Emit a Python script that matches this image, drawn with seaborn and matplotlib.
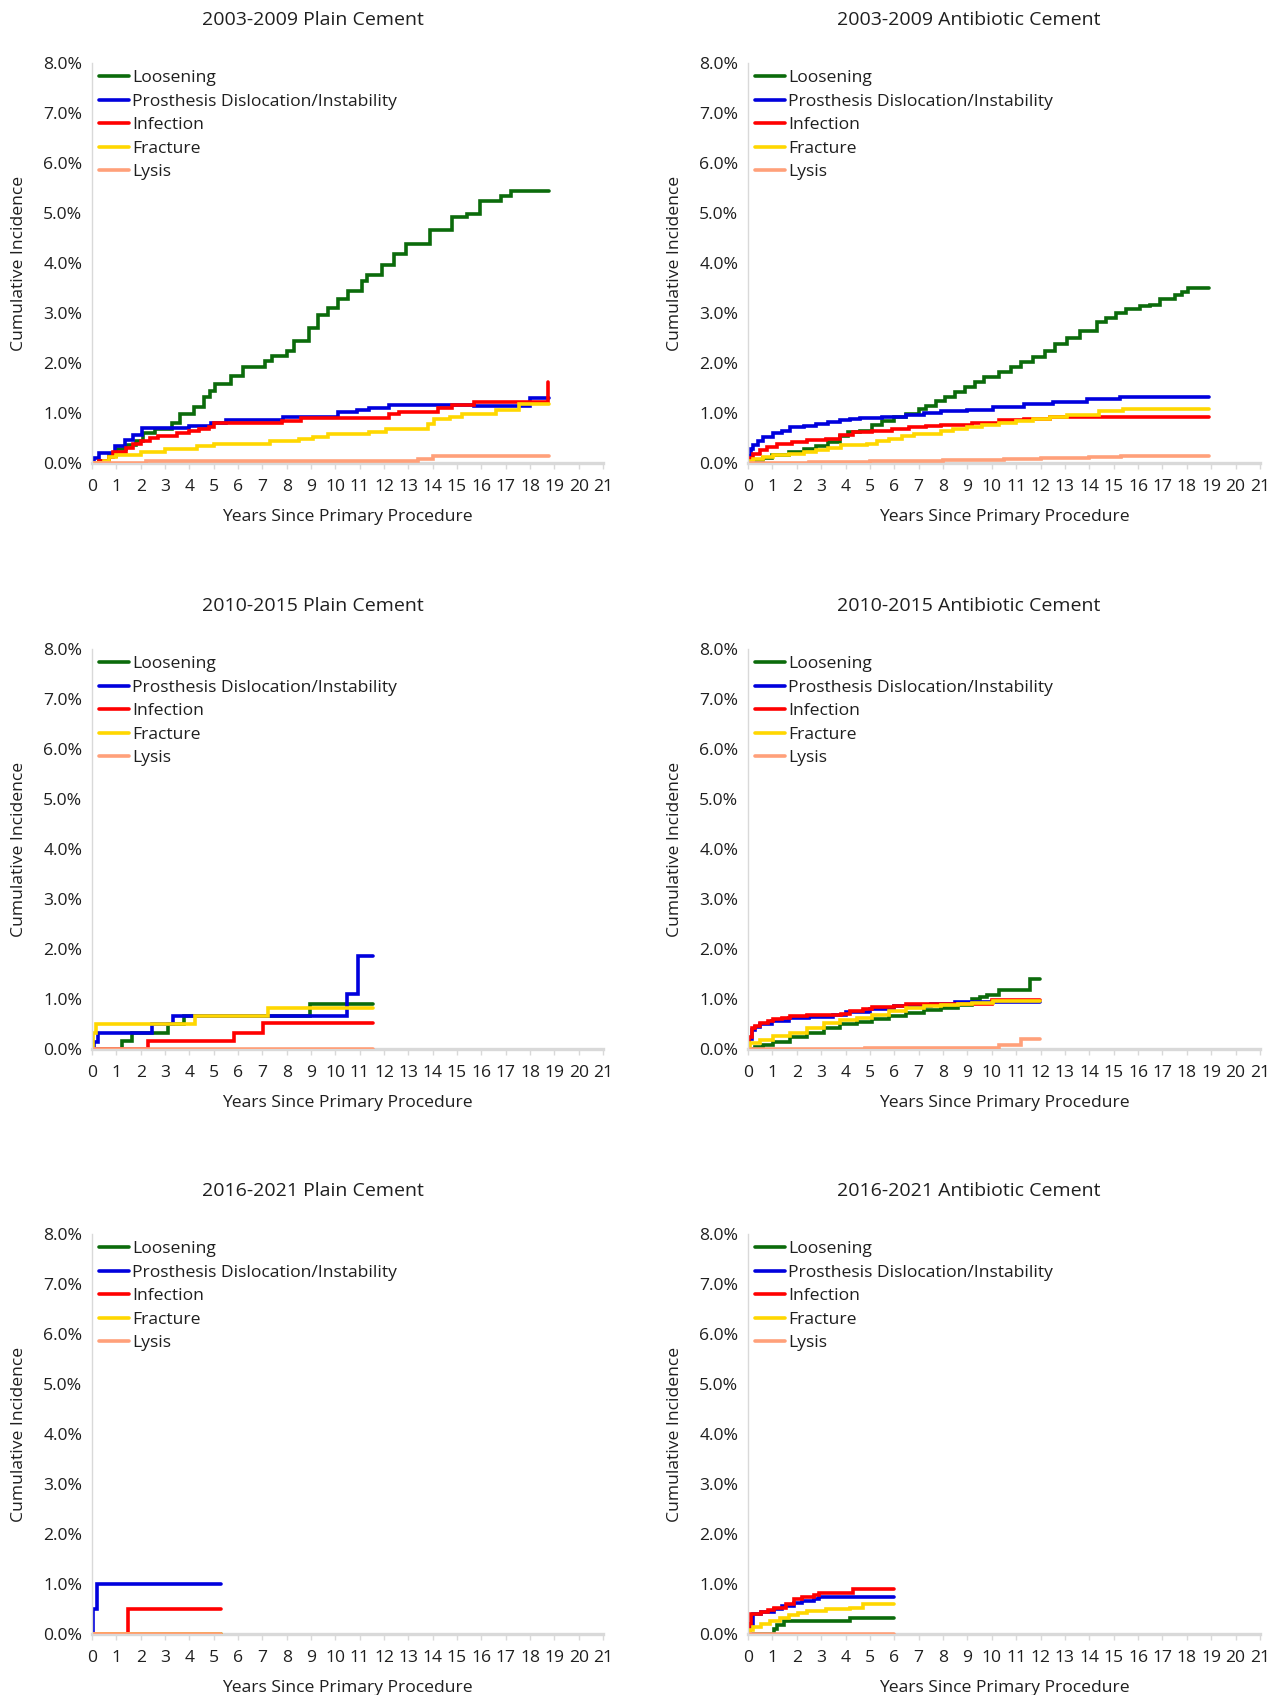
import matplotlib
matplotlib.use("Agg")
import matplotlib.pyplot as plt
import seaborn as sns
import pandas as pd
from matplotlib.lines import Line2D
from matplotlib.ticker import FuncFormatter

# ---------------- data (years, cumulative incidence %) ----------------
CAUSES = ["Loosening", "Prosthesis Dislocation/Instability", "Infection", "Fracture", "Lysis"]
COLORS = ["#0b6b0b", "#0000dd", "#ff0000", "#ffd700", "#ffa07a"]
TITLES = ["2003-2009 Plain Cement", "2003-2009 Antibiotic Cement",
          "2010-2015 Plain Cement", "2010-2015 Antibiotic Cement",
          "2016-2021 Plain Cement", "2016-2021 Antibiotic Cement"]
X_TICKS = list(range(0, 22))
Y_TICKS = [0, 1, 2, 3, 4, 5, 6, 7, 8]

# Panel 1: 2003-2009 Plain
p1_loos_x = [0, 0.3, 0.7, 1.0, 1.4, 1.8, 2.1, 2.6, 3.3, 3.6, 4.2, 4.6, 4.85, 5.05, 5.7, 6.2, 7.1, 7.4, 8.0, 8.3, 8.9, 9.3, 9.7, 10.1, 10.5, 11.1, 11.3, 11.9, 12.4, 12.9, 13.9, 14.8, 15.4, 15.95, 16.8, 17.2, 18.8]
p1_loos_y = [0, 0.05, 0.15, 0.28, 0.36, 0.44, 0.6, 0.69, 0.8, 0.98, 1.12, 1.32, 1.45, 1.58, 1.75, 1.92, 2.05, 2.15, 2.25, 2.44, 2.7, 2.96, 3.1, 3.28, 3.44, 3.64, 3.76, 3.96, 4.18, 4.38, 4.67, 4.92, 4.98, 5.25, 5.35, 5.45, 5.45]
p1_disl_x = [0, 0.1, 0.3, 0.95, 1.35, 1.7, 2.04, 4.0, 4.9, 5.5, 7.85, 10.1, 10.9, 11.4, 12.2, 15.7, 18.0, 18.8]
p1_disl_y = [0, 0.1, 0.2, 0.35, 0.46, 0.56, 0.71, 0.75, 0.81, 0.87, 0.92, 1.02, 1.07, 1.11, 1.17, 1.15, 1.3, 1.3]
p1_inf_x = [0, 0.3, 0.7, 0.85, 1.4, 1.7, 2.0, 2.4, 2.7, 3.5, 4.0, 4.4, 4.8, 5.0, 7.8, 8.6, 12.2, 12.6, 14.2, 14.8, 15.7, 18.75, 18.75]
p1_inf_y = [0, 0.05, 0.13, 0.23, 0.31, 0.38, 0.45, 0.5, 0.55, 0.6, 0.64, 0.68, 0.73, 0.8, 0.84, 0.9, 0.98, 1.02, 1.1, 1.16, 1.22, 1.22, 1.63]
p1_frac_x = [0, 0.5, 0.7, 1.0, 2.0, 3.0, 4.3, 5.0, 7.3, 8.5, 9.1, 9.7, 11.4, 12.1, 13.8, 14.05, 14.7, 15.2, 16.6, 17.55, 18.8]
p1_frac_y = [0, 0.05, 0.12, 0.17, 0.23, 0.28, 0.35, 0.39, 0.44, 0.48, 0.53, 0.58, 0.63, 0.69, 0.78, 0.88, 0.93, 0.98, 1.06, 1.19, 1.19]
p1_lys_x = [0, 2.2, 13.4, 14.0, 18.8]
p1_lys_y = [0, 0.04, 0.09, 0.15, 0.15]

# Panel 2: 2003-2009 Antibiotic
p2_loos_x = [0, 0.2, 0.6, 1.0, 1.7, 2.3, 2.8, 3.3, 3.77, 4.1, 4.6, 5.1, 5.5, 6.0, 6.5, 7.0, 7.3, 7.7, 8.1, 8.5, 8.9, 9.3, 9.7, 10.3, 10.8, 11.2, 11.7, 12.2, 12.6, 13.07, 13.6, 14.3, 14.7, 15.1, 15.5, 16.08, 16.5, 16.9, 17.5, 17.8, 18.05, 18.9]
p2_loos_y = [0, 0.06, 0.11, 0.16, 0.23, 0.28, 0.35, 0.42, 0.55, 0.62, 0.65, 0.76, 0.85, 0.92, 0.99, 1.08, 1.15, 1.24, 1.32, 1.42, 1.52, 1.62, 1.72, 1.82, 1.93, 2.03, 2.12, 2.25, 2.38, 2.5, 2.65, 2.83, 2.9, 3.0, 3.08, 3.15, 3.17, 3.28, 3.36, 3.43, 3.5, 3.5]
p2_disl_x = [0, 0.05, 0.12, 0.22, 0.4, 0.63, 1.04, 1.4, 1.72, 2.3, 2.8, 3.3, 3.77, 4.2, 4.6, 5.5, 6.5, 7.2, 7.9, 9.0, 10.06, 11.3, 12.5, 13.9, 15.26, 18.9]
p2_disl_y = [0, 0.15, 0.28, 0.36, 0.45, 0.52, 0.6, 0.64, 0.72, 0.75, 0.79, 0.82, 0.86, 0.88, 0.91, 0.93, 0.97, 1.0, 1.04, 1.07, 1.12, 1.19, 1.22, 1.28, 1.33, 1.33]
p2_inf_x = [0, 0.1, 0.22, 0.5, 0.77, 1.2, 1.8, 2.4, 3.2, 3.77, 4.3, 5.1, 5.9, 6.6, 7.3, 7.9, 9.2, 10.3, 11.3, 12.4, 14.4, 18.9]
p2_inf_y = [0, 0.1, 0.19, 0.26, 0.32, 0.39, 0.42, 0.46, 0.48, 0.56, 0.62, 0.64, 0.69, 0.72, 0.74, 0.76, 0.8, 0.86, 0.88, 0.92, 0.93, 0.93]
p2_frac_x = [0, 0.1, 0.22, 0.6, 1.04, 1.7, 2.3, 2.8, 3.3, 3.8, 4.9, 5.3, 5.8, 6.3, 6.8, 7.9, 8.4, 9.0, 9.6, 10.3, 11.0, 11.7, 12.4, 13.1, 14.4, 15.4, 18.9]
p2_frac_y = [0, 0.05, 0.09, 0.12, 0.16, 0.19, 0.22, 0.26, 0.3, 0.36, 0.39, 0.44, 0.49, 0.54, 0.59, 0.64, 0.68, 0.72, 0.76, 0.8, 0.84, 0.88, 0.93, 0.97, 1.04, 1.08, 1.08]
p2_lys_x = [0, 2.5, 5.0, 8.0, 10.5, 12.0, 14.0, 15.3, 18.9]
p2_lys_y = [0, 0.02, 0.04, 0.06, 0.08, 0.1, 0.12, 0.14, 0.14]

# Panel 3: 2010-2015 Plain
p3_loos_x = [0, 1.22, 1.63, 3.14, 3.8, 8.96, 11.56]
p3_loos_y = [0, 0.17, 0.33, 0.5, 0.66, 0.9, 0.9]
p3_disl_x = [0, 0.1, 0.26, 2.45, 3.34, 10.47, 10.95, 11.56]
p3_disl_y = [0, 0.15, 0.33, 0.5, 0.66, 1.1, 1.87, 1.87]
p3_inf_x = [0, 2.31, 5.84, 7.04, 11.56]
p3_inf_y = [0, 0.17, 0.33, 0.52, 0.52]
p3_frac_x = [0, 0.05, 0.15, 4.23, 7.25, 11.56]
p3_frac_y = [0, 0.33, 0.5, 0.66, 0.83, 0.83]
p3_lys_x = [0, 11.56]
p3_lys_y = [0, 0]

# Panel 4: 2010-2015 Antibiotic
p4_loos_x = [0, 0.3, 0.6, 1.04, 1.72, 2.4, 3.1, 3.77, 4.46, 5.1, 5.8, 6.5, 7.2, 7.9, 8.6, 9.2, 9.5, 9.79, 10.3, 11.56, 11.97]
p4_loos_y = [0, 0.04, 0.08, 0.15, 0.25, 0.33, 0.42, 0.5, 0.55, 0.6, 0.66, 0.72, 0.78, 0.83, 0.88, 1.0, 1.05, 1.08, 1.18, 1.4, 1.4]
p4_disl_x = [0, 0.05, 0.15, 0.3, 0.5, 1.0, 1.7, 2.5, 3.5, 4.0, 5.0, 6.0, 7.5, 8.5, 11.97]
p4_disl_y = [0, 0.2, 0.38, 0.44, 0.5, 0.56, 0.62, 0.65, 0.68, 0.74, 0.8, 0.86, 0.9, 0.94, 0.94]
p4_inf_x = [0, 0.05, 0.15, 0.3, 0.49, 0.8, 1.04, 1.4, 1.72, 2.4, 3.8, 4.2, 4.7, 5.1, 6.0, 6.5, 10.0, 11.97]
p4_inf_y = [0, 0.25, 0.42, 0.47, 0.52, 0.57, 0.6, 0.63, 0.66, 0.68, 0.7, 0.76, 0.8, 0.84, 0.87, 0.91, 0.98, 0.98]
p4_frac_x = [0, 0.08, 0.5, 1.04, 1.72, 2.4, 3.1, 3.77, 4.46, 5.1, 5.8, 6.5, 7.2, 7.9, 8.6, 9.2, 10.06, 11.97]
p4_frac_y = [0, 0.13, 0.18, 0.26, 0.32, 0.42, 0.52, 0.58, 0.63, 0.68, 0.76, 0.82, 0.86, 0.88, 0.9, 0.93, 0.96, 0.96]
p4_lys_x = [0, 4.8, 10.3, 11.2, 11.97]
p4_lys_y = [0, 0.03, 0.08, 0.2, 0.2]

# Panel 5: 2016-2021 Plain
p5_loos_x = [0, 5.29]
p5_loos_y = [0, 0]
p5_disl_x = [0, 0.05, 0.2, 5.29]
p5_disl_y = [0, 0.5, 1.0, 1.0]
p5_inf_x = [0, 1.46, 5.29]
p5_inf_y = [0, 0.5, 0.5]
p5_frac_x = [0, 5.29]
p5_frac_y = [0, 0]
p5_lys_x = [0, 5.29]
p5_lys_y = [0, 0]

# Panel 6: 2016-2021 Antibiotic
p6_loos_x = [0, 1.05, 1.2, 1.47, 4.2, 6.0]
p6_loos_y = [0, 0.1, 0.18, 0.26, 0.33, 0.33]
p6_disl_x = [0, 0.1, 0.22, 0.55, 1.05, 1.4, 1.9, 2.2, 2.7, 2.9, 6.0]
p6_disl_y = [0, 0.2, 0.4, 0.45, 0.5, 0.57, 0.63, 0.67, 0.7, 0.75, 0.75]
p6_inf_x = [0, 0.05, 0.13, 0.55, 0.8, 1.05, 1.56, 1.9, 2.2, 2.7, 2.9, 4.3, 6.0]
p6_inf_y = [0, 0.2, 0.4, 0.45, 0.48, 0.53, 0.6, 0.7, 0.75, 0.78, 0.82, 0.9, 0.9]
p6_frac_x = [0, 0.1, 0.2, 0.55, 0.9, 1.3, 1.7, 2.05, 2.4, 3.2, 4.2, 4.7, 6.0]
p6_frac_y = [0, 0.08, 0.15, 0.2, 0.26, 0.33, 0.38, 0.43, 0.47, 0.5, 0.53, 0.61, 0.61]
p6_lys_x = [0, 6.0]
p6_lys_y = [0, 0]

PANELS = [
    [(p1_loos_x, p1_loos_y), (p1_disl_x, p1_disl_y), (p1_inf_x, p1_inf_y), (p1_frac_x, p1_frac_y), (p1_lys_x, p1_lys_y)],
    [(p2_loos_x, p2_loos_y), (p2_disl_x, p2_disl_y), (p2_inf_x, p2_inf_y), (p2_frac_x, p2_frac_y), (p2_lys_x, p2_lys_y)],
    [(p3_loos_x, p3_loos_y), (p3_disl_x, p3_disl_y), (p3_inf_x, p3_inf_y), (p3_frac_x, p3_frac_y), (p3_lys_x, p3_lys_y)],
    [(p4_loos_x, p4_loos_y), (p4_disl_x, p4_disl_y), (p4_inf_x, p4_inf_y), (p4_frac_x, p4_frac_y), (p4_lys_x, p4_lys_y)],
    [(p5_loos_x, p5_loos_y), (p5_disl_x, p5_disl_y), (p5_inf_x, p5_inf_y), (p5_frac_x, p5_frac_y), (p5_lys_x, p5_lys_y)],
    [(p6_loos_x, p6_loos_y), (p6_disl_x, p6_disl_y), (p6_inf_x, p6_inf_y), (p6_frac_x, p6_frac_y), (p6_lys_x, p6_lys_y)],
]

# ---------------- style ----------------
sns.set_theme(style="white")
plt.rcParams["font.family"] = ["Open Sans", "DejaVu Sans"]
FS = 12.6
FS_TITLE = 14
TXT = "#1f1f1f"
AXC = "#d9d9d9"
LW = 2.6

W, H = 1278, 1695
fig = plt.figure(figsize=(W / 100, H / 100), dpi=100)

col_left = [92, 748]
col_w = [511, 512]
row_top = [63, 649, 1234]
row_h = 400

for i, series in enumerate(PANELS):
    r, c = divmod(i, 2)
    left = col_left[c] / W
    bottom = 1 - (row_top[r] + row_h) / H
    ax = fig.add_axes([left, bottom, col_w[c] / W, row_h / H])

    for (xs, ys), name, col in zip(series, CAUSES, COLORS):
        df = pd.DataFrame({"Years": xs, "Incidence": ys})
        sns.lineplot(data=df, x="Years", y="Incidence", ax=ax, color=col,
                     drawstyle="steps-post", estimator=None, sort=False,
                     lw=LW, legend=False, solid_joinstyle="miter")

    ax.set_xlim(0, 21)
    ax.set_ylim(0, 8)
    ax.set_xticks(X_TICKS)
    ax.set_yticks(Y_TICKS)
    ax.yaxis.set_major_formatter(FuncFormatter(lambda v, p: f"{v:.1f}%"))
    for s in ["top", "right"]:
        ax.spines[s].set_visible(False)
    ax.spines["left"].set_color(AXC)
    ax.spines["left"].set_linewidth(1.0)
    ax.spines["bottom"].set_color(AXC)
    ax.spines["bottom"].set_linewidth(2.4)
    ax.spines["bottom"].set_zorder(0.5)
    ax.tick_params(axis="x", length=4, width=1, color=AXC, pad=7.5,
                   labelsize=FS, labelcolor=TXT, bottom=True, direction="out")
    ax.tick_params(axis="y", length=0, pad=7, labelsize=FS, labelcolor=TXT, left=True)
    ax.grid(False)

    ax.set_xlabel("Years Since Primary Procedure", fontsize=FS, color=TXT)
    ax.xaxis.set_label_coords(0.5, -0.136)
    ax.xaxis.label.set_va("center")
    ax.set_ylabel("Cumulative Incidence", fontsize=FS, color=TXT)
    ax.yaxis.set_label_coords(-0.143, 0.5)
    ax.yaxis.label.set_va("center")

    ax.text(0.432, 1 + 43 / row_h, TITLES[i], transform=ax.transAxes,
            ha="center", va="center", fontsize=FS_TITLE, color=TXT)

    handles = [Line2D([0], [0], color=col, lw=LW) for col in COLORS]
    ax.legend(handles, CAUSES, loc="upper left", bbox_to_anchor=(0.014, 0.982),
              frameon=False, fontsize=FS, borderpad=0, borderaxespad=0,
              handlelength=1.7, handletextpad=0.2, labelspacing=0.41,
              labelcolor=TXT)

fig.savefig("out.png", dpi=100)
